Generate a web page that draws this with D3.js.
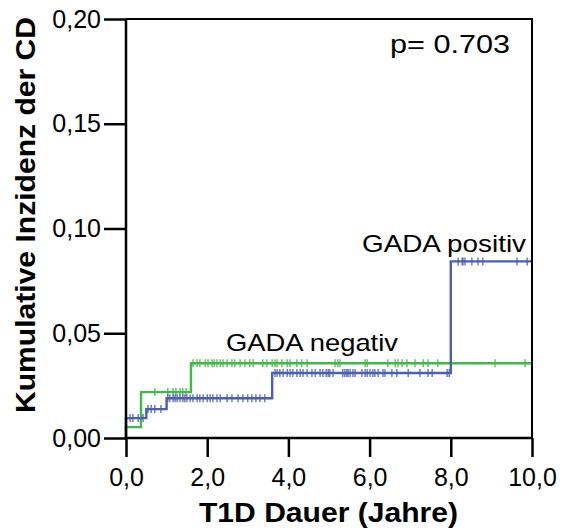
<!DOCTYPE html>
<html>
<head>
<meta charset="utf-8">
<script src="https://cdn.jsdelivr.net/npm/d3@7"></script>
<style>
  html, body { margin: 0; padding: 0; background: #fff; }
  svg text { font-family: "Liberation Sans", Arial, sans-serif; fill: #000; }
</style>
</head>
<body>
<div id="chart"></div>
<script>
// Kaplan–Meier cumulative incidence of CD by T1D duration, split by GADA status.

// x axis ticks (years) and y axis ticks (cumulative incidence)
const xTicks = [0, 2, 4, 6, 8, 10];
const yTicks = [0, 0.05, 0.10, 0.15, 0.20];

// GADA negativ: event times and cumulative incidence after each event
const negEventTimes = [0.0, 0.37, 1.6];
const negLevels     = [0.0052, 0.0219, 0.0357];
// GADA negativ: censored observations (years)
const negCensored = [0.71, 1.03, 1.16, 1.23, 1.33, 1.40, 1.48,
  1.65, 1.75, 1.82, 1.95, 2.02, 2.12, 2.17, 2.24, 2.32, 2.39, 2.49, 2.61, 2.68,
  2.81, 2.93, 3.05, 3.13, 3.37, 3.47, 3.60, 3.67, 3.72, 3.84, 3.97, 4.04, 4.21,
  4.33, 4.46, 5.15, 5.22, 5.27, 5.89, 5.94, 6.45, 6.63, 6.70, 6.80, 6.92, 7.12,
  7.32, 7.44, 7.68, 9.09, 9.83];

// GADA positiv: event times and cumulative incidence after each event
const posEventTimes = [0.0, 0.5, 1.0, 3.6, 8.0];
const posLevels     = [0.0095, 0.0138, 0.019, 0.031, 0.0843];
// GADA positiv: censored observations (years)
const posCensored = [0.10, 0.17, 0.30, 0.42,
  0.54, 0.62, 0.71, 0.86,
  1.03, 1.08, 1.16, 1.21, 1.26, 1.33, 1.40, 1.45, 1.50, 1.58, 1.65, 1.75, 1.82,
  1.90, 2.00, 2.07, 2.14, 2.24, 2.32, 2.49, 2.61, 2.76, 2.88, 3.00, 3.10, 3.20,
  3.30, 3.42,
  3.67, 3.72, 3.79, 3.87, 3.97, 4.04, 4.11, 4.21, 4.29, 4.36, 4.46, 4.58, 4.66,
  4.78, 4.85, 4.93, 4.98, 5.02, 5.10, 5.34, 5.39, 5.44, 5.47, 5.52, 5.59, 5.64,
  5.81, 5.89, 5.94, 6.01, 6.08, 6.13, 6.21, 6.33, 6.38, 6.55, 6.67, 6.95, 7.24,
  7.44, 7.54, 7.91, 7.96,
  8.18, 8.28, 8.30, 8.35, 8.52, 8.67, 8.79, 9.63, 9.88];

const maxTime = 10;
const pText = "p= 0.703";

const W = 565, H = 530;
const margin = { left: 126, top: 19, right: 33, bottom: 92 };
const iw = W - margin.left - margin.right;
const ih = H - margin.top - margin.bottom;

const svg = d3.select("#chart").append("svg")
  .attr("width", W).attr("height", H);

const g = svg.append("g").attr("transform", `translate(${margin.left},${margin.top})`);

const x = d3.scaleLinear().domain([0, 10]).range([0, iw]);
const y = d3.scaleLinear().domain([0, 0.20]).range([ih, 0]);

const fmtX = v => d3.format(".1f")(v).replace(".", ",");
const fmtY = v => d3.format(".2f")(v).replace(".", ",");

// build step-function points from event times
function stepPoints(times, levels) {
  const pts = [[0, 0]];
  times.forEach((t, i) => pts.push([t, levels[i]]));
  pts.push([maxTime, levels[levels.length - 1]]);
  return pts;
}
function levelAt(times, levels, t) {
  let v = 0;
  times.forEach((et, i) => { if (et <= t) v = levels[i]; });
  return v;
}

const line = d3.line().x(d => x(d[0])).y(d => y(d[1])).curve(d3.curveStepAfter);

const series = [
  { times: negEventTimes, levels: negLevels, censored: negCensored, color: "#3dba47" },
  { times: posEventTimes, levels: posLevels, censored: posCensored, color: "#4a5fb2" }
];

series.forEach(s => {
  g.append("path")
    .attr("d", line(stepPoints(s.times, s.levels)))
    .attr("fill", "none")
    .attr("stroke", s.color)
    .attr("stroke-width", 2.4);
  g.selectAll(null).data(s.censored).enter().append("line")
    .attr("x1", d => x(d)).attr("x2", d => x(d))
    .attr("y1", d => y(levelAt(s.times, s.levels, d)) - 4)
    .attr("y2", d => y(levelAt(s.times, s.levels, d)) + 4)
    .attr("stroke", s.color)
    .attr("stroke-width", 1.2);
});

// frame (top and right)
g.append("path")
  .attr("d", `M0,0H${iw}V${ih}`)
  .attr("fill", "none").attr("stroke", "#000").attr("stroke-width", 2);

// axes
const xAxis = g.append("g").attr("transform", `translate(0,${ih})`)
  .call(d3.axisBottom(x).tickValues(xTicks).tickFormat(fmtX).tickSize(19).tickPadding(11));
const yAxis = g.append("g")
  .call(d3.axisLeft(y).tickValues(yTicks).tickFormat(fmtY).tickSize(22).tickPadding(3));

[xAxis, yAxis].forEach(a => {
  a.select(".domain").attr("stroke", "#000").attr("stroke-width", 2.5);
  a.selectAll(".tick line").attr("stroke", "#000").attr("stroke-width", 2.5);
  a.selectAll(".tick text")
    .style("font-family", '"Liberation Sans", Arial, sans-serif')
    .attr("font-size", 25).attr("fill", "#000");
});
yAxis.select(".domain").attr("d", `M0,${ih}V0`);
xAxis.select(".domain").attr("d", `M0,0H${iw}`);

// axis titles
svg.append("text")
  .attr("x", 199).attr("y", 522)
  .attr("font-size", 28).attr("font-weight", "bold")
  .attr("textLength", 259).attr("lengthAdjust", "spacingAndGlyphs")
  .text("T1D Dauer (Jahre)");

svg.append("text")
  .attr("transform", `translate(35,413) rotate(-90)`)
  .attr("font-size", 28).attr("font-weight", "bold")
  .attr("textLength", 396).attr("lengthAdjust", "spacingAndGlyphs")
  .text("Kumulative Inzidenz der CD");

// annotations
svg.append("text").attr("x", 390).attr("y", 53)
  .attr("font-size", 25)
  .attr("textLength", 120).attr("lengthAdjust", "spacingAndGlyphs")
  .text(pText);
svg.append("text").attr("x", 362).attr("y", 252)
  .attr("font-size", 24)
  .attr("textLength", 164).attr("lengthAdjust", "spacingAndGlyphs")
  .text("GADA positiv");
svg.append("text").attr("x", 226).attr("y", 351)
  .attr("font-size", 24)
  .attr("textLength", 172).attr("lengthAdjust", "spacingAndGlyphs")
  .text("GADA negativ");
</script>
</body>
</html>
